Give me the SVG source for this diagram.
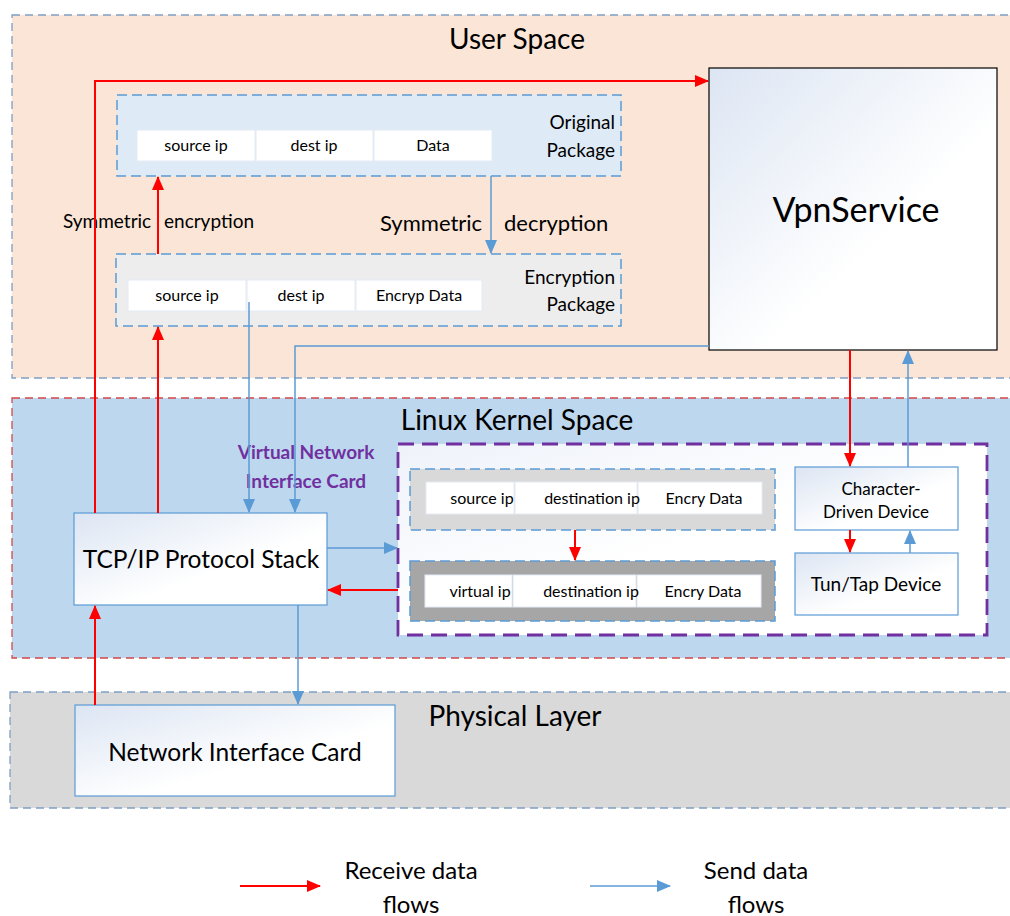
<svg xmlns="http://www.w3.org/2000/svg" width="1010" height="916" viewBox="0 0 1010 916">
  <style>
    text { font-family: Lato, "Open Sans", "Liberation Sans", sans-serif; fill: #000; }
    .title { font-size: 28px; text-anchor: middle; }
    .cell { fill: #fff; stroke: #E4ECF4; stroke-width: 1; }
    .cellt { font-size: 16px; text-anchor: middle; }
    .pkg { stroke: #5B9BD5; stroke-width: 1.5; stroke-dasharray: 10 5; }
    .lbl { font-size: 19px; text-anchor: end; }
    .node { fill: url(#nodeFill); stroke: #5B9BD5; stroke-width: 1.2; }
    .recv { fill: none; stroke: #FF0000; stroke-width: 2; marker-end: url(#arrRed); }
    .send { fill: none; stroke: #5B9BD5; stroke-width: 1.5; marker-end: url(#arrBlue); }
    .legend { font-size: 24px; text-anchor: middle; }
    .vnic { font-size: 19px; font-weight: bold; text-anchor: middle; fill: #7030A0; }
  </style>
  <defs>
    <linearGradient id="nodeFill" x1="0" y1="0" x2="1" y2="1">
      <stop offset="0" stop-color="#DCE5F3"/>
      <stop offset="0.6" stop-color="#FFFFFF"/>
      <stop offset="1" stop-color="#FFFFFF"/>
    </linearGradient>
    <linearGradient id="vnicFill" x1="0" y1="0" x2="1" y2="1">
      <stop offset="0" stop-color="#EEF2FA"/>
      <stop offset="0.5" stop-color="#FFFFFF"/>
    </linearGradient>
    <marker id="arrRed" markerUnits="userSpaceOnUse" markerWidth="14" markerHeight="12" refX="13" refY="6" orient="auto">
      <path d="M0,0 L14,6 L0,12 Z" fill="#FF0000"/>
    </marker>
    <marker id="arrBlue" markerUnits="userSpaceOnUse" markerWidth="14" markerHeight="12" refX="13" refY="6" orient="auto">
      <path d="M0,0 L14,6 L0,12 Z" fill="#5B9BD5"/>
    </marker>
  </defs>

  <rect width="1010" height="916" fill="#FFFFFF"/>

  <!-- layers -->
  <g id="user-space">
    <rect x="12" y="15" width="1010" height="363" fill="#FBE5D6" stroke="#7F9FC4" stroke-width="1.3" stroke-dasharray="8 5"/>
    <text class="title" x="517" y="49">User Space</text>
  </g>
  <g id="kernel-space">
    <rect x="12" y="398" width="1010" height="260" fill="#BDD7EE" stroke="#D04848" stroke-width="1.3" stroke-dasharray="8 5"/>
    <text class="title" x="517" y="430">Linux Kernel Space</text>
  </g>
  <g id="physical-layer">
    <rect x="10" y="692" width="1012" height="116" fill="#D9D9D9" stroke="#7F9FC4" stroke-width="1.3" stroke-dasharray="8 5"/>
    <text class="title" x="515" y="726">Physical Layer</text>
  </g>

  <!-- user space packages -->
  <g id="original-package">
    <rect class="pkg" x="117" y="95" width="504" height="81" fill="#DEEBF7"/>
    <rect class="cell" x="137" y="130" width="118" height="31"/>
    <rect class="cell" x="256" y="130" width="117" height="31"/>
    <rect class="cell" x="374" y="130" width="118" height="31"/>
    <text class="cellt" x="196" y="151">source ip</text>
    <text class="cellt" x="314" y="151">dest ip</text>
    <text class="cellt" x="433" y="151">Data</text>
    <text class="lbl" x="615" y="129">Original</text>
    <text class="lbl" x="615" y="157">Package</text>
  </g>
  <g id="encryption-package">
    <rect class="pkg" x="116" y="254" width="505" height="72" fill="#EDEDED"/>
    <rect class="cell" x="128" y="280" width="118" height="31"/>
    <rect class="cell" x="247" y="280" width="108" height="31"/>
    <rect class="cell" x="356" y="280" width="126" height="31"/>
    <text class="cellt" x="187" y="301">source ip</text>
    <text class="cellt" x="301" y="301">dest ip</text>
    <text class="cellt" x="419" y="301">Encryp Data</text>
    <text class="lbl" x="615" y="284">Encryption</text>
    <text class="lbl" x="615" y="311">Package</text>
  </g>
  <g id="encryption-labels">
    <text x="63" y="228" font-size="19">Symmetric</text>
    <text x="164" y="228" font-size="19">encryption</text>
    <text x="380" y="231" font-size="22">Symmetric</text>
    <text x="504" y="231" font-size="22">decryption</text>
  </g>

  <g id="vpn-service">
    <rect x="709" y="68" width="288" height="282" fill="url(#nodeFill)" stroke="#000" stroke-width="1.2"/>
    <text x="856" y="222" font-size="34" text-anchor="middle">VpnService</text>
  </g>

  <!-- kernel nodes -->
  <g id="tcp-ip-stack">
    <rect class="node" x="74" y="513" width="253" height="92"/>
    <text x="201" y="568" font-size="24.5" text-anchor="middle">TCP/IP Protocol Stack</text>
  </g>
  <g id="vnic-label">
    <text class="vnic" x="306" y="459">Virtual Network</text>
    <text class="vnic" x="306" y="488">Interface Card</text>
  </g>
  <g id="virtual-nic">
    <rect x="398" y="444" width="589" height="191" fill="url(#vnicFill)" stroke="#7030A0" stroke-width="2.8" stroke-dasharray="16 8"/>
  </g>
  <g id="packet-source">
    <rect class="pkg" x="410" y="469" width="365" height="61" fill="#D9D9D9"/>
    <rect class="cell" x="426" y="482" width="88" height="32"/>
    <rect class="cell" x="515" y="482" width="122" height="32"/>
    <rect class="cell" x="638" y="482" width="124" height="32"/>
    <text class="cellt" x="482" y="504">source ip</text>
    <text class="cellt" x="592" y="504">destination ip</text>
    <text class="cellt" x="704" y="504">Encry Data</text>
  </g>
  <g id="packet-virtual">
    <rect class="pkg" x="410" y="561" width="365" height="60" fill="#A6A6A6"/>
    <rect class="cell" x="425" y="575" width="87" height="32"/>
    <rect class="cell" x="513" y="575" width="123" height="32"/>
    <rect class="cell" x="637" y="575" width="124" height="32"/>
    <text class="cellt" x="480" y="597">virtual ip</text>
    <text class="cellt" x="591" y="597">destination ip</text>
    <text class="cellt" x="703" y="597">Encry Data</text>
  </g>
  <g id="char-device">
    <rect class="node" x="795" y="467" width="163" height="63"/>
    <text x="881" y="495" font-size="17" text-anchor="middle">Character-</text>
    <text x="876" y="518" font-size="17" text-anchor="middle">Driven Device</text>
  </g>
  <g id="tun-tap">
    <rect class="node" x="795" y="553" width="163" height="62"/>
    <text x="876" y="591" font-size="19" text-anchor="middle">Tun/Tap Device</text>
  </g>

  <g id="nic">
    <rect class="node" x="75" y="705" width="320" height="91"/>
    <text x="235" y="761" font-size="24.5" text-anchor="middle">Network Interface Card</text>
  </g>

  <!-- data flows -->
  <g id="connectors">
    <path class="recv" d="M95,705 L95,606"/>
    <path class="recv" d="M95,513 L95,81 L708,81" stroke-width="1.5"/>
    <path class="recv" d="M158,513 L158,327" stroke-width="2.5"/>
    <path class="recv" d="M158,254 L158,177"/>
    <path class="send" d="M491,176 L491,253"/>
    <path class="send" d="M249,302 L249,512"/>
    <path class="send" d="M709,346 L295,346 L295,512"/>
    <path class="send" d="M327,548 L397,548"/>
    <path class="recv" d="M398,590 L328,590"/>
    <path class="send" d="M298,605 L298,704"/>
    <path class="recv" d="M850,350 L850,466"/>
    <path class="send" d="M908,467 L908,351"/>
    <path class="recv" d="M850,530 L850,552"/>
    <path class="send" d="M910,553 L910,531"/>
    <path class="recv" d="M575,530 L575,560"/>
  </g>

  <!-- legend -->
  <g id="legend">
    <path class="recv" d="M240,886 L320,886"/>
    <text class="legend" x="411" y="879">Receive data</text>
    <text class="legend" x="411" y="913">flows</text>
    <path class="send" d="M590,886 L670,886" stroke-width="2"/>
    <text class="legend" x="756" y="879">Send data</text>
    <text class="legend" x="756" y="913">flows</text>
  </g>
</svg>
